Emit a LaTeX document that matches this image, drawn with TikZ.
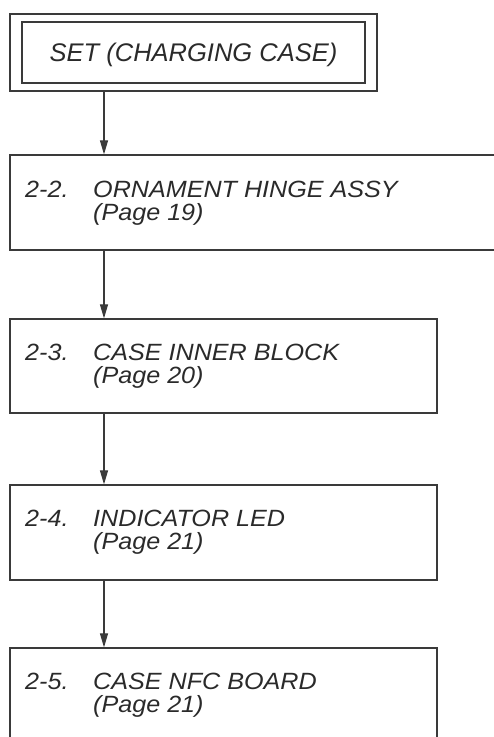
\documentclass[tikz,border=0pt]{standalone}
\usepackage{fontspec}
\setmainfont{Liberation Sans}
\newfontfamily\boxfont[FakeStretch=1.07]{Liberation Sans}
\usetikzlibrary{arrows.meta}
\definecolor{ink}{HTML}{2A2A2A}
\definecolor{rule}{HTML}{3A3A3A}
\tikzset{
  boxframe/.style={draw=rule, line width=1.3pt, rectangle, inner sep=0pt, fill=none},
  boxtext/.style={anchor=base west, inner sep=0pt, text=ink, font=\boxfont\itshape\fontsize{23.5}{23.5}\selectfont},
  settext/.style={inner sep=0pt, text=ink, font=\itshape\fontsize{25.5}{25.5}\selectfont},
  flow/.style={draw=rule, line width=1.2pt, -{Triangle[length=14pt,width=8pt]}}
}
\begin{document}
\begin{tikzpicture}[x=1pt,y=-1pt]
\useasboundingbox (0,0) rectangle (494,737);
% top double box
\node[boxframe, minimum width=367pt, minimum height=77pt] (setout) at (193.5,52.5) {};
\node[boxframe, minimum width=343pt, minimum height=61pt] (setin) at (193.5,52.5) {};
\node[settext, anchor=base] (settxt) at (193.5,61.5) {SET (CHARGING CASE)};
% boxes
\node[boxframe, minimum width=520pt, minimum height=95pt] (b22) at (270,202.5) {};
\node[boxframe, minimum width=427pt, minimum height=94pt] (b23) at (223.5,366) {};
\node[boxframe, minimum width=427pt, minimum height=95pt] (b24) at (223.5,532.5) {};
\node[boxframe, minimum width=427pt, minimum height=100pt] (b25) at (223.5,698) {};
% texts
\node[boxtext] (n22) at (25,197) {2-2.};
\node[boxtext] (t22) at (93,197) {ORNAMENT HINGE ASSY};
\node[boxtext] (p22) at (93,220) {(Page 19)};
\node[boxtext] (n23) at (25,360) {2-3.};
\node[boxtext] (t23) at (93,360) {CASE INNER BLOCK};
\node[boxtext] (p23) at (93,383) {(Page 20)};
\node[boxtext] (n24) at (25,526) {2-4.};
\node[boxtext] (t24) at (93,526) {INDICATOR LED};
\node[boxtext] (p24) at (93,549) {(Page 21)};
\node[boxtext] (n25) at (25,689) {2-5.};
\node[boxtext] (t25) at (93,689) {CASE NFC BOARD};
\node[boxtext] (p25) at (93,712) {(Page 21)};
% connectors
\coordinate (ax) at (104,0);
\draw[flow] (setout.south -| ax) -- (b22.north -| ax);
\draw[flow] (b22.south -| ax) -- (b23.north -| ax);
\draw[flow] (b23.south -| ax) -- (b24.north -| ax);
\draw[flow] (b24.south -| ax) -- (b25.north -| ax);
\end{tikzpicture}
\end{document}
